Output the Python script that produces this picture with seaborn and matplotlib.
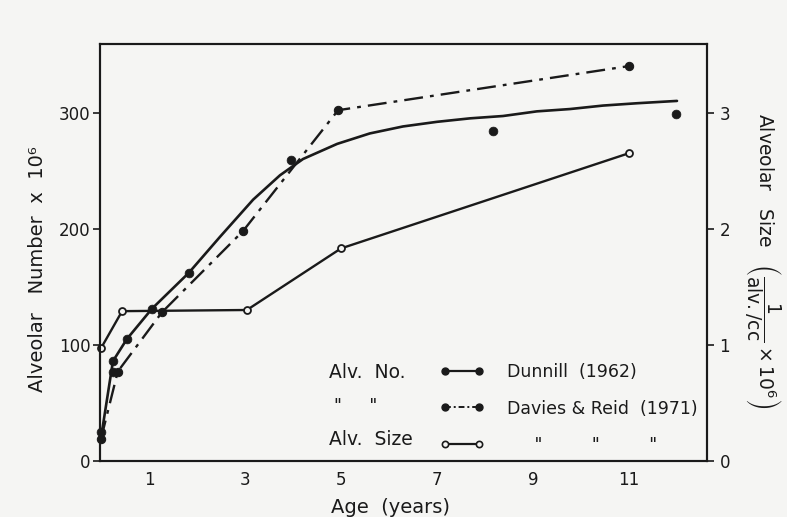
import matplotlib
matplotlib.use('Agg')
import matplotlib.pyplot as plt
import seaborn as sns
from matplotlib.lines import Line2D

# ---- data ----
dunnill_age = [0.0, 0.25, 0.25, 0.54, 1.06, 1.83, 3.96, 8.17, 11.98]
dunnill_number = [25, 86, 77, 105, 131, 162, 259, 284, 299]

dunnill_fit_age = [0.02, 0.25, 0.54, 1.06, 1.83, 2.48, 3.17, 3.73, 4.21, 4.92,
                   5.60, 6.29, 7.0, 7.69, 8.375, 9.08, 9.77, 10.46, 11.17, 12.0]
dunnill_fit_number = [25, 86, 105, 131, 162, 193, 225, 246, 260, 273,
                      282, 288, 292, 295, 297, 301, 303, 306, 308, 310]

davies_age = [0.0, 0.35, 1.27, 2.96, 4.94, 11.0]
davies_number = [19, 77, 128, 198, 302, 340]

size_age = [0.0, 0.44, 3.04, 5.0, 11.0]
size_value = [0.97, 1.29, 1.30, 1.83, 2.65]

x_ticks = [1, 3, 5, 7, 9, 11]
left_ticks = [0, 100, 200, 300]
right_ticks = [0, 1, 2, 3]

ink = '#1a1a1a'
paper = '#f5f5f3'

sns.set_theme(style='white')
plt.rcParams['font.family'] = ['DejaVu Sans']

fig = plt.figure(figsize=(7.87, 5.17), dpi=100, facecolor=paper)
ax = fig.add_axes([100 / 787, 1 - 461 / 517, 607 / 787, 417 / 517])
ax.set_facecolor(paper)
ax2 = ax.twinx()

dashdot = (0, (8, 3, 1.6, 3))

# Dunnill fitted curve
sns.lineplot(x=dunnill_fit_age, y=dunnill_fit_number, ax=ax, color=ink,
             linewidth=1.9, sort=False, estimator=None, legend=False)
# Dunnill points
sns.scatterplot(x=dunnill_age, y=dunnill_number, ax=ax, color=ink, s=40,
                edgecolor=ink, legend=False, clip_on=False, zorder=4)
# Davies & Reid
sns.lineplot(x=davies_age, y=davies_number, ax=ax, color=ink, linewidth=1.7,
             linestyle=dashdot, marker='o', markersize=6, markeredgecolor=ink,
             sort=False, estimator=None, legend=False, clip_on=False)
# Alveolar size
sns.lineplot(x=size_age, y=size_value, ax=ax2, color=ink, linewidth=1.7,
             marker='o', markersize=5, markerfacecolor=paper,
             markeredgecolor=ink, markeredgewidth=1.3,
             sort=False, estimator=None, legend=False, clip_on=False)

ax.set_xlim(-0.02, 12.625)
ax.set_ylim(0, 359)
ax2.set_ylim(0, 3.59)

ax.set_xticks(x_ticks)
ax.set_xticklabels([str(v) for v in x_ticks])
ax.set_yticks(left_ticks)
ax2.set_yticks(right_ticks)

ax.tick_params(axis='x', length=0, pad=7, labelsize=12, colors=ink)
ax.tick_params(axis='y', left=True, length=5, width=1.2, direction='out',
               pad=2, labelsize=12, colors=ink)
ax2.tick_params(axis='y', right=True, length=5, width=1.2, direction='out',
                pad=4, labelsize=12, colors=ink)

for a in (ax, ax2):
    for s in a.spines.values():
        s.set_color(ink)
        s.set_linewidth(1.5)

ax.set_xlabel('Age  (years)', fontsize=14, color=ink)
ax.xaxis.set_label_coords(0.478, -0.088)
ax.set_ylabel('Alveolar   Number  x  10\u2076', fontsize=14, color=ink)
ax.yaxis.set_label_coords(-0.088, 0.46)
ax2.set_ylabel(r'Alveolar   Size   $\left(\dfrac{1}{\mathrm{alv./cc}}\times 10^{6}\right)$',
               fontsize=13.5, color=ink, rotation=-90)
ax2.yaxis.set_label_coords(1.125, 0.48)

# legend
handles = [
    Line2D([], [], color=ink, linewidth=1.6, marker='o', markersize=5),
    Line2D([], [], color=ink, linewidth=1.4, linestyle=(0, (3, 1.5, 1, 1.5)),
           marker='o', markersize=5),
    Line2D([], [], color=ink, linewidth=1.6, marker='o', markersize=4.5,
           markerfacecolor=paper, markeredgewidth=1.2),
]
labels = ['Dunnill  (1962)', 'Davies & Reid  (1971)',
          '     "         "         "']
leg = ax.legend(handles, labels, loc='upper left', bbox_to_anchor=(0.545, 0.255),
                frameon=False, numpoints=2, handlelength=2.6, handletextpad=1.3,
                labelspacing=1.05, fontsize=12.5, borderpad=0)
for t in leg.get_texts():
    t.set_color(ink)

ax.text(0.378, 0.212, 'Alv.  No.', transform=ax.transAxes, fontsize=13.5,
        color=ink, va='center', ha='left')
ax.text(0.386, 0.132, '"     "', transform=ax.transAxes, fontsize=12.5,
        color=ink, va='center', ha='left')
ax.text(0.378, 0.051, 'Alv.  Size', transform=ax.transAxes, fontsize=13.5,
        color=ink, va='center', ha='left')

fig.savefig('out.png', dpi=100, facecolor=paper)
